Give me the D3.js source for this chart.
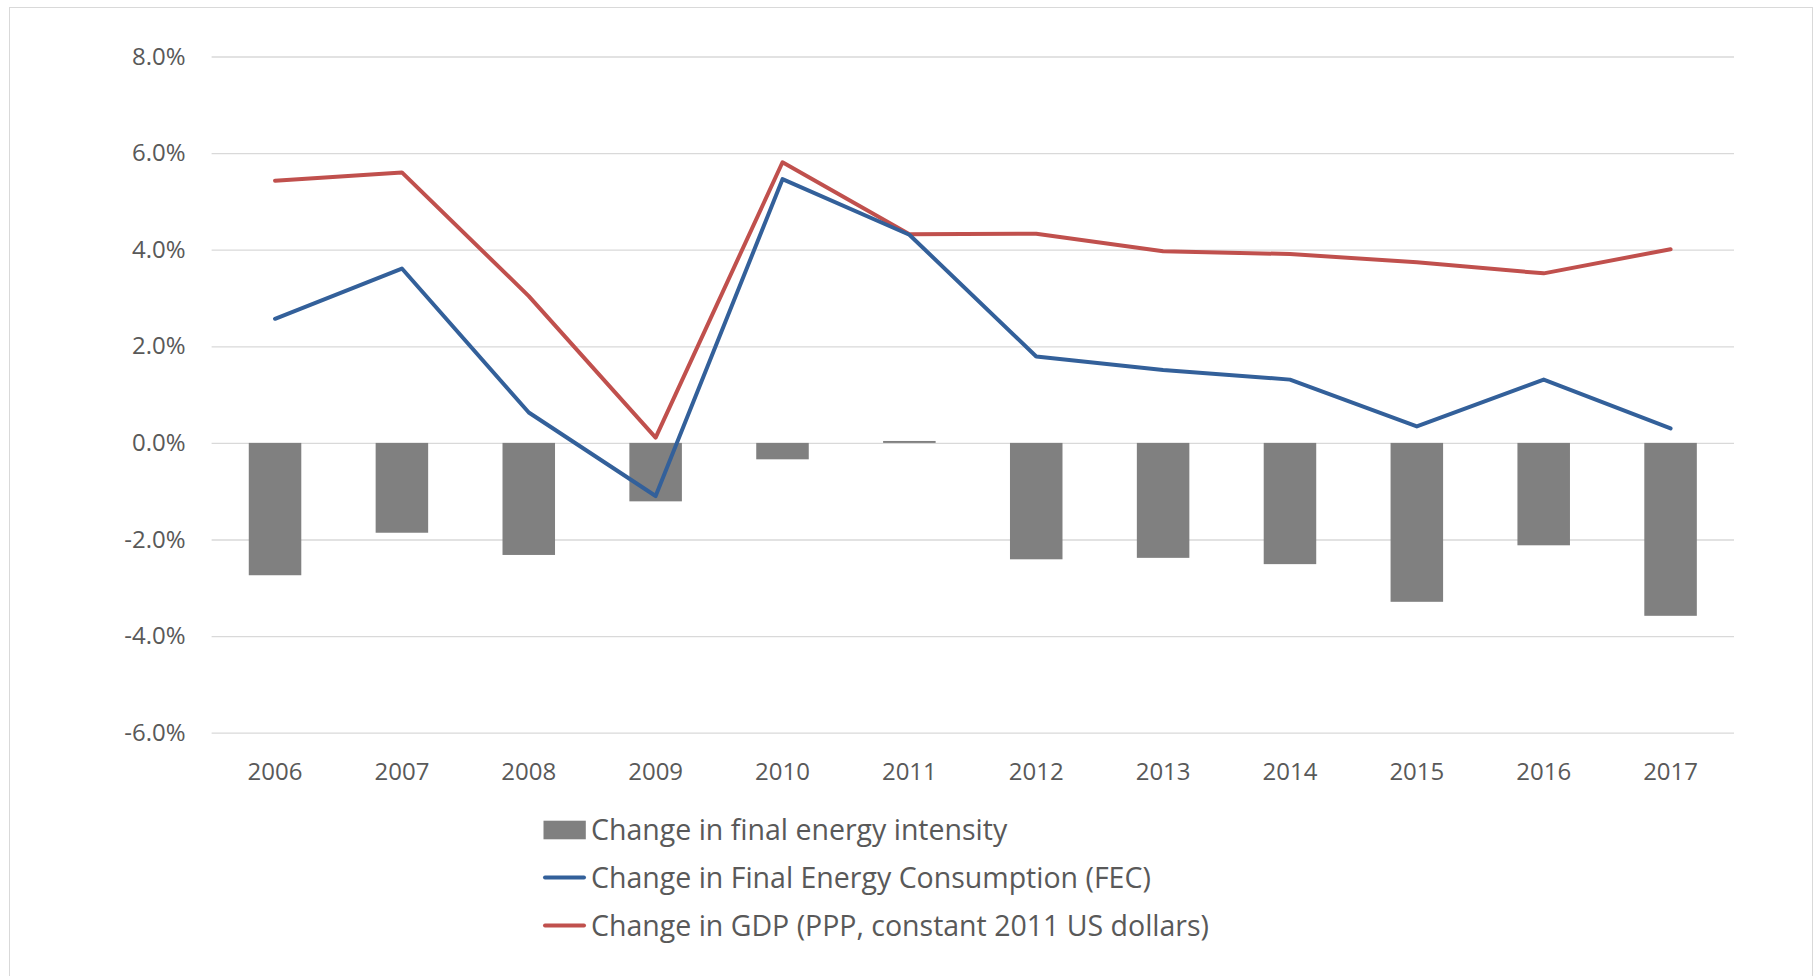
<html>
<head>
  <title>Energy intensity</title>
<script src="https://d3js.org/d3.v7.min.js"></script>
<style>
  body { margin: 0; background: #fff; }
  text { font-family: "Open Sans", sans-serif; fill: #595959; }
</style>
</head>
<body>
  <script>
    years = ["2006","2007","2008","2009","2010","2011","2012","2013","2014","2015","2016","2017"];
    intensity = [-2.74, -1.86, -2.32, -1.21, -0.34, 0.04, -2.41, -2.38, -2.51, -3.29, -2.12, -3.58];
    fec = [2.57, 3.61, 0.63, -1.10, 5.46, 4.31, 1.79, 1.51, 1.31, 0.34, 1.31, 0.30];
    gdp = [5.43, 5.60, 3.04, 0.11, 5.81, 4.32, 4.33, 3.97, 3.91, 3.74, 3.51, 4.01];
    yTicks = [-6, -4, -2, 0, 2, 4, 6, 8];
    legendLabels = ["Change in final energy intensity",
                    "Change in Final Energy Consumption (FEC)",
                    "Change in GDP (PPP, constant 2011 US dollars)"];

    width = 1819;
    height = 976;
    var plotLeft = 211.6, plotRight = 1734, plotTop = 56.5, plotBottom = 732.7;

    var svg = d3.select("body").append("svg")
                .attr("width", width)
                .attr("height", height);

    // chart frame
    svg.append("rect")
       .attr("x", 9.5).attr("y", 7.5)
       .attr("width", 1803).attr("height", 990)
       .attr("fill", "none")
       .attr("stroke", "#d9d9d9");

    var x = d3.scaleBand()
              .domain(years)
              .range([plotLeft, plotRight])
              .paddingInner(0.586)
              .paddingOuter(0.293);

    var y = d3.scaleLinear()
              .domain([-6, 8])
              .range([plotBottom, plotTop]);

    // gridlines + y labels
    var yAxis = d3.axisLeft(y)
                  .tickValues(yTicks)
                  .tickSize(-(plotRight - plotLeft))
                  .tickPadding(26)
                  .tickFormat(function(d){ return d.toFixed(1) + "%"; });

    svg.append("g")
       .attr("transform", "translate(" + plotLeft + ",0)")
       .call(yAxis)
       .call(function(g){
         g.select(".domain").remove();
         g.selectAll(".tick line").attr("stroke", "#d9d9d9").attr("stroke-width", 1.3);
         g.selectAll(".tick text").attr("font-size", 24).style("fill", "#595959");
       });

    // x labels
    svg.append("g")
       .attr("transform", "translate(0," + plotBottom + ")")
       .call(d3.axisBottom(x).tickSize(0).tickPadding(29.8))
       .call(function(g){
         g.select(".domain").remove();
         g.selectAll(".tick text").attr("font-size", 24).style("fill", "#595959");
       });

    // bars
    svg.append("g").selectAll("rect")
       .data(intensity)
       .enter()
         .append("rect")
         .attr("x", function(d, i){ return x(years[i]); })
         .attr("width", x.bandwidth())
         .attr("y", function(d){ return y(Math.max(0, d)); })
         .attr("height", function(d){ return Math.max(1, Math.abs(y(d) - y(0))); })
         .attr("fill", "#808080");

    var line = d3.line()
                 .x(function(d, i){ return x(years[i]) + x.bandwidth() / 2; })
                 .y(function(d){ return y(d); });

    svg.append("path")
       .attr("d", line(gdp))
       .attr("fill", "none")
       .attr("stroke", "#c0504d")
       .attr("stroke-width", 4)
       .attr("stroke-linejoin", "round")
       .attr("stroke-linecap", "round");

    svg.append("path")
       .attr("d", line(fec))
       .attr("fill", "none")
       .attr("stroke", "#33609a")
       .attr("stroke-width", 4)
       .attr("stroke-linejoin", "round")
       .attr("stroke-linecap", "round");

    // legend
    var legend = svg.append("g").attr("transform", "translate(543.5, 0)");
    var rowY = [830, 877.5, 925.5];

    legend.append("rect")
          .attr("x", 0).attr("y", rowY[0] - 9.3)
          .attr("width", 42.3).attr("height", 18.6)
          .attr("fill", "#808080");

    legend.selectAll("line")
          .data(["#33609a", "#c0504d"])
          .enter()
            .append("line")
            .attr("x1", 1.5).attr("x2", 40.5)
            .attr("y1", function(d, i){ return rowY[i + 1]; })
            .attr("y2", function(d, i){ return rowY[i + 1]; })
            .attr("stroke", function(d){ return d; })
            .attr("stroke-width", 4)
            .attr("stroke-linecap", "round");

    legend.selectAll("text")
          .data(legendLabels)
          .enter()
            .append("text")
            .attr("x", 47.5)
            .attr("y", function(d, i){ return rowY[i] + 10; })
            .attr("font-size", 28.5)
            .text(function(d){ return d; });
  </script>
</body>
</html>
